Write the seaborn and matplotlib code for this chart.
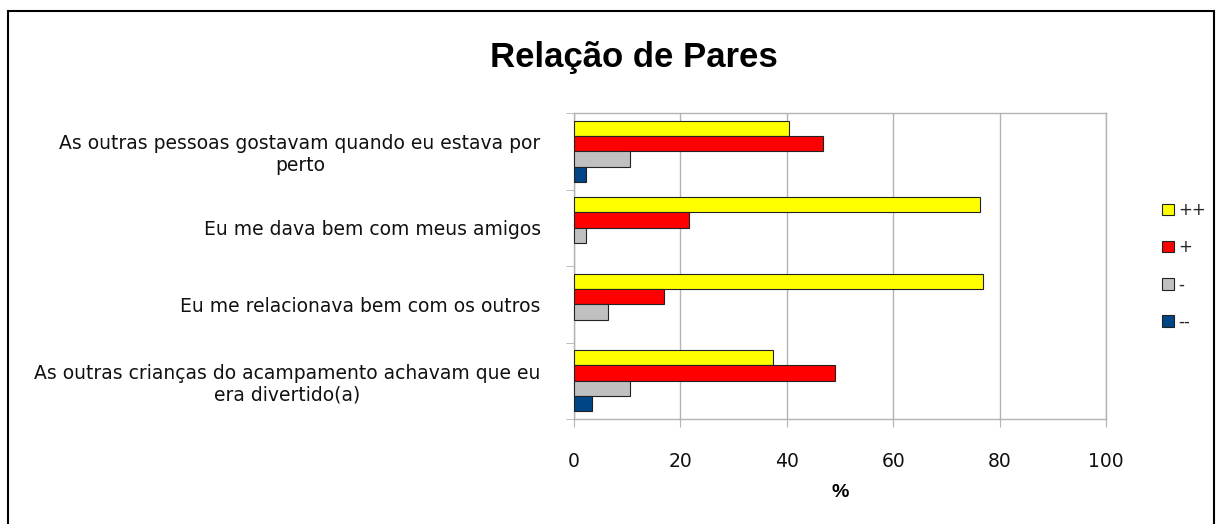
"""Grouped horizontal bars: Relação de Pares."""

import matplotlib.pyplot as plt
import pandas as pd
import seaborn as sns
from matplotlib.patches import Rectangle

items = [
    "As outras pessoas gostavam quando eu estava por\nperto",
    "Eu me dava bem com meus amigos",
    "Eu me relacionava bem com os outros",
    "As outras crianças do acampamento achavam que eu\nera divertido(a)",
]
levels = ["++", "+", "-", "--"]
pct_pp = [40.4, 76.4, 76.8, 37.4]
pct_p = [46.8, 21.7, 17.0, 49.0]
pct_m = [10.6, 2.2, 6.4, 10.6]
pct_mm = [2.2, 0.0, 0.0, 3.3]
colors = ["#ffff00", "#ff0000", "#c0c0c0", "#004586"]

rows = []
for lvl, vals in zip(levels, [pct_pp, pct_p, pct_m, pct_mm]):
    for item, v in zip(items, vals):
        rows.append({"item": item, "nivel": lvl, "pct": v})
df = pd.DataFrame(rows)
df = df[df["pct"] > 0]

sns.set_style("white")
plt.rcParams["font.family"] = ["DejaVu Sans"]

fig = plt.figure(figsize=(12.16, 5.24), dpi=100)
ax = fig.add_axes([574 / 1216, 1 - 419 / 524, 532 / 1216, 306 / 524])

sns.barplot(data=df, y="item", x="pct", hue="nivel", order=items,
            hue_order=levels, palette=colors, saturation=1, orient="h",
            width=0.8, edgecolor="#222222", linewidth=0.8, ax=ax, zorder=3)

grid = "#b3b3b3"
ax.set_xlim(0, 100)
ax.set_ylim(3.5, -0.5)
ax.set_xticks(range(0, 101, 20))
ax.xaxis.grid(True, color=grid, lw=1, zorder=0)
ax.yaxis.grid(False)
for s in ax.spines.values():
    s.set_color(grid)
    s.set_linewidth(1)

ax.set_yticks(range(len(items)))
ax.set_yticklabels(items)
ax.set_yticks([-0.5, 0.5, 1.5, 2.5, 3.5], minor=True)
ax.tick_params(axis="y", which="major", length=0, pad=24, labelsize=13.5,
               labelcolor="#111111")
ax.tick_params(axis="y", which="minor", left=True, length=6, color=grid)
ax.tick_params(axis="x", bottom=True, length=6, color=grid, pad=18,
               labelsize=13.5, labelcolor="#111111")
for t in ax.get_yticklabels():
    t.set_multialignment("center")

ax.set_ylabel("")
ax.set_xlabel("%", fontsize=14, fontweight="bold", labelpad=9,
              family="Liberation Sans", color="black")

fig.text(634 / 1216, 1 - 58 / 524, "Relação de Pares", ha="center",
         va="center", fontsize=25, fontweight="bold", family="Liberation Sans",
         color="black")

handles, labels = ax.get_legend_handles_labels()
ax.legend(handles, labels, loc="center left",
          bbox_to_anchor=(1154 / 1216, 1 - 266 / 524),
          bbox_transform=fig.transFigure, frameon=False, fontsize=12,
          handlelength=0.7, handleheight=0.7, handletextpad=0.25,
          labelspacing=1.15, borderpad=0)

fig.patches.append(Rectangle((8 / 1216, -0.05), 1206 / 1216, 1.05 - 11 / 524,
                             transform=fig.transFigure, fill=False,
                             edgecolor="black", lw=1.5))

fig.savefig("out.png", dpi=100)
plt.close(fig)
